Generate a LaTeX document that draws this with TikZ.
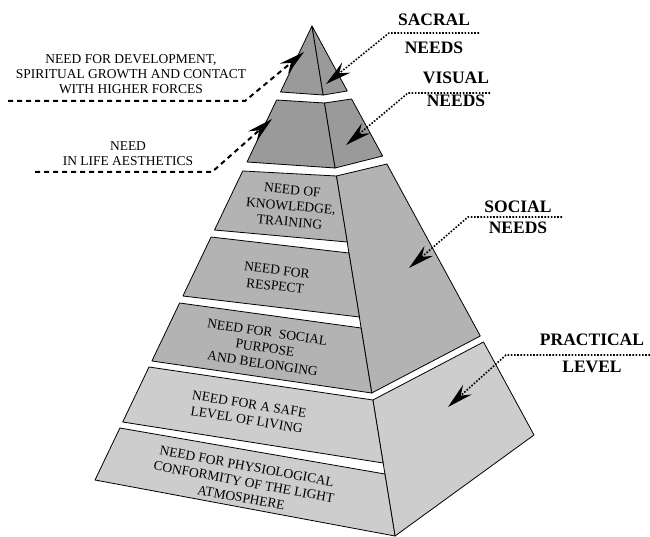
\documentclass[tikz,border=0pt]{standalone}
\usepackage{fontspec}
\setmainfont{Liberation Serif}
\usetikzlibrary{arrows.meta, positioning, calc}
\definecolor{colGrayDark} {HTML}{9A9A9A}
\definecolor{colGrayMid}  {HTML}{B3B3B3}
\definecolor{colGrayLight}{HTML}{CDCDCD}
\tikzset{
  face/.style={draw=black, line width=0.8pt, line join=round},
  upperface/.style ={face, fill=colGrayDark},
  socialface/.style={face, fill=colGrayMid},
  practface/.style ={face, fill=colGrayLight},
  tiertext/.style={
    align=center, inner sep=0pt,
    font=\fontsize{13.5}{16}\selectfont
  },
  sidetext/.style={
    align=center, inner sep=0pt,
    font=\fontsize{13.5}{15}\selectfont
  },
  headtext/.style={
    align=center, inner sep=0pt,
    font=\bfseries\fontsize{17.5}{18}\selectfont
  },
  % dart-shaped heads, solid even on broken lines
  leftarr/.style={
    -{Stealth[length=26pt,width=13pt,inset=9pt]},
    line width=2pt, dash pattern=on 5pt off 4pt
  },
  rightarr/.style={
    -{Stealth[length=26pt,width=13pt,inset=9pt]},
    line width=1.6pt, dash pattern=on 1.6pt off 1.6pt
  }
}

\begin{document}
\begin{tikzpicture}[x=1pt, y=-1pt]
  \useasboundingbox (0,0) rectangle (650,537);

  %% ── Top: sacral and visual tiers ─────────────────────────────────
  \draw[upperface] (312,26) -- (280.5,92) -- (323.2,95) -- cycle;
  \draw[upperface] (312,26) -- (323.2,95) -- (347.3,91) -- cycle;
  \draw[upperface] (276.6,100) -- (324.5,103) -- (335.1,168) -- (247.0,162) -- cycle;
  \draw[upperface] (324.5,103) -- (351.6,99) -- (382.6,156) -- (335.1,168) -- cycle;

  %% ── Middle: social tiers ─────────────────────────────────────────
  \draw[socialface] (336.4,176) -- (386.9,164) -- (480.3,336) -- (371.7,393) -- cycle;
  \draw[socialface] (242.7,171) -- (336.4,176) -- (347.2,242) -- (214.5,230) -- cycle;
  \draw[socialface] (211.1,237) -- (348.9,253) -- (359.4,317) -- (182.9,296) -- cycle;
  \draw[socialface] (179.6,303) -- (361.1,328) -- (371.7,393) -- (151.9,361) -- cycle;

  %% ── Bottom: practical tiers ──────────────────────────────────────
  \draw[practface] (372.9,400) -- (483.5,342) -- (534.0,435) -- (395.0,536) -- cycle;
  \draw[practface] (149.0,367) -- (372.9,400) -- (383.1,463) -- (122.7,422) -- cycle;
  \draw[practface] (119.9,428) -- (384.9,474) -- (395.0,536) -- (95.0,480) -- cycle;

  %% ── Texts on the tiers ───────────────────────────────────────────
  \node[tiertext, rotate=-5] (know) at (291,206)
    {NEED OF\\KNOWLEDGE,\\TRAINING};
  \node[tiertext, rotate=-6.5] (resp) at (276,278)
    {NEED FOR\\RESPECT};
  \node[tiertext, rotate=-8.5] (belong) at (265,348)
    {NEED FOR\ \ SOCIAL\\PURPOSE\\AND BELONGING};
  \node[tiertext, rotate=-9] (safe) at (248,412)
    {NEED FOR A SAFE\\LEVEL OF LIVING};
  \node[tiertext, rotate=-10.5] (physio) at (244,482)
    {NEED FOR PHYSIOLOGICAL\\CONFORMITY OF THE LIGHT\\ATMOSPHERE};

  %% ── Labels on the left ───────────────────────────────────────────
  \node[sidetext] (devtxt) at (131,74)
    {NEED FOR DEVELOPMENT,\\SPIRITUAL GROWTH AND CONTACT\\WITH HIGHER FORCES};
  \node[sidetext] (aesttxt) at (128,154)
    {NEED\\IN LIFE AESTHETICS};

  %% ── Labels on the right ──────────────────────────────────────────
  \node[headtext] (sacraltxt) at (434,34)  {SACRAL\\[10pt]NEEDS};
  \node[headtext] (visualtxt) at (456,89.5) {VISUAL\\[5pt]NEEDS};
  \node[headtext] (socialtxt) at (518,217.5) {SOCIAL\\[3pt]NEEDS};
  \node[headtext] (practtxt)  at (592,353.5) {PRACTICAL\\[9pt]LEVEL};

  %% ── Leader lines ─────────────────────────────────────────────────
  \coordinate (devstart)   at (8,101);
  \coordinate (devbend)    at (245,101);
  \coordinate (devtip)     at (304,52);
  \coordinate (aeststart)  at (35,172);
  \coordinate (aestbend)   at (212,172);
  \coordinate (aesttip)    at (272,119);
  \coordinate (sacralend)  at (479,33);
  \coordinate (sacralbend) at (389,33);
  \coordinate (sacraltip)  at (326,84);
  \coordinate (visualend)  at (490,93);
  \coordinate (visualbend) at (408,93);
  \coordinate (visualtip)  at (346,145);
  \coordinate (socialend)  at (562,217);
  \coordinate (socialbend) at (468,217);
  \coordinate (socialtip)  at (409,268);
  \coordinate (practend)   at (650,355);
  \coordinate (practbend)  at (506,355);
  \coordinate (practtip)   at (448,407);

  \draw[leftarr] (devstart) -- (devbend) -- (devtip);
  \draw[leftarr] (aeststart) -- (aestbend) -- (aesttip);
  \draw[rightarr] (sacralend) -- (sacralbend) -- (sacraltip);
  \draw[rightarr] (visualend) -- (visualbend) -- (visualtip);
  \draw[rightarr] (socialend) -- (socialbend) -- (socialtip);
  \draw[rightarr] (practend) -- (practbend) -- (practtip);
\end{tikzpicture}
\end{document}
